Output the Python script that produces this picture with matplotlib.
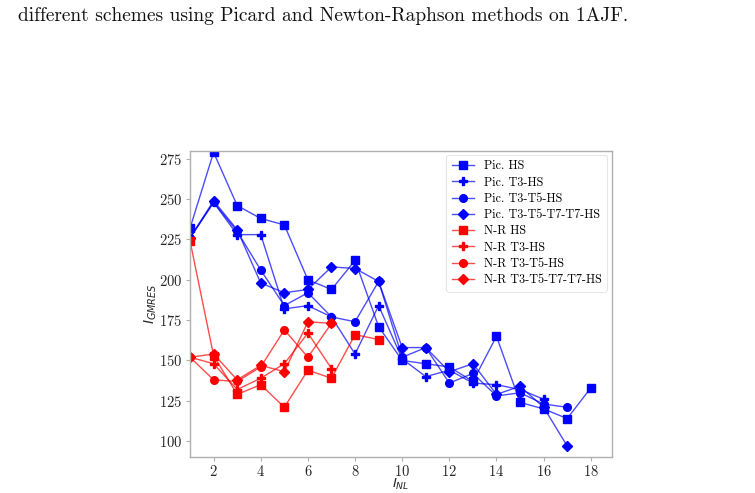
import matplotlib
matplotlib.use("Agg")
import matplotlib.pyplot as plt

# ---------------- data ----------------
pic_hs_x = [1, 2, 3, 4, 5, 6, 7, 8, 9, 10, 11, 12, 13, 14, 15, 16, 17, 18]
pic_hs_y = [232, 279, 246, 238, 234, 200, 194, 212, 171, 150, 148, 146, 137, 165, 124, 120, 114, 133]

pic_t3_x = [1, 2, 3, 4, 5, 6, 7, 8, 9, 10, 11, 12, 13, 14, 15, 16]
pic_t3_y = [226, 248, 228, 228, 182, 184, 177, 154, 184, 151, 140, 144, 136, 135, 132, 126]

pic_t3t5_x = [1, 2, 3, 4, 5, 6, 7, 8, 9, 10, 11, 12, 13, 14, 15, 16, 17]
pic_t3t5_y = [226, 248, 230, 206, 184, 192, 177, 174, 199, 152, 158, 136, 142, 128, 130, 123, 121]

pic_t3t7_x = [1, 2, 3, 4, 5, 6, 7, 8, 9, 10, 11, 12, 13, 14, 15, 16, 17]
pic_t3t7_y = [226, 249, 231, 198, 192, 194, 208, 207, 199, 158, 158, 143, 148, 129, 134, 121, 97]

nr_hs_x = [1, 2, 3, 4, 5, 6, 7, 8, 9]
nr_hs_y = [224, 153, 129, 135, 121, 144, 139, 166, 163]

nr_t3_x = [1, 2, 3, 4, 5, 6, 7]
nr_t3_y = [152, 148, 132, 139, 148, 167, 145]

nr_t3t5_x = [1, 2, 3, 4, 5, 6, 7]
nr_t3t5_y = [152, 138, 137, 146, 169, 152, 173]

nr_t3t7_x = [1, 2, 3, 4, 5, 6, 7]
nr_t3t7_y = [152, 154, 138, 147, 143, 174, 173]

labels = ["Pic. HS", "Pic. T3-HS", "Pic. T3-T5-HS", "Pic. T3-T5-T7-T7-HS",
          "N-R HS", "N-R T3-HS", "N-R T3-T5-HS", "N-R T3-T5-T7-T7-HS"]
x_ticks = [2, 4, 6, 8, 10, 12, 14, 16, 18]
y_ticks = [100, 125, 150, 175, 200, 225, 250, 275]

# ---------------- style ----------------
plt.rcParams['font.family'] = ['cmr10', 'DejaVu Serif']
plt.rcParams['mathtext.fontset'] = 'dejavusans'
plt.rcParams['axes.unicode_minus'] = False
plt.rcParams['axes.formatter.use_mathtext'] = True

fig = plt.figure(figsize=(7.55, 4.93), dpi=100)
ax = fig.add_axes([0.2517, 0.0724, 0.5589, 0.6219])

series = [
    (pic_hs_x, pic_hs_y, 'blue', 's', 5.5),
    (pic_t3_x, pic_t3_y, 'blue', 'P', 6),
    (pic_t3t5_x, pic_t3t5_y, 'blue', 'o', 5.5),
    (pic_t3t7_x, pic_t3t7_y, 'blue', 'D', 5.5),
    (nr_hs_x, nr_hs_y, 'red', 's', 5.5),
    (nr_t3_x, nr_t3_y, 'red', 'P', 6),
    (nr_t3t5_x, nr_t3t5_y, 'red', 'o', 5.5),
    (nr_t3t7_x, nr_t3t7_y, 'red', 'D', 5.5),
]
for (xs, ys, c, m, ms), lab in zip(series, labels):
    lc = (0, 0, 1, 0.7) if c == 'blue' else (1, 0, 0, 0.7)
    ax.plot(xs, ys, color=lc, lw=1.0, marker=m, markersize=ms,
            markerfacecolor=c, markeredgecolor=c, label=lab)

ax.set_xlim(1, 18.9)
ax.set_ylim(90, 280)
ax.set_xticks(x_ticks)
ax.set_yticks(y_ticks)
for s in ax.spines.values():
    s.set_color('#b0b0b0')
    s.set_linewidth(1.0)
ax.tick_params(axis='both', colors='#b0b0b0', labelcolor='#262626',
               labelsize=10.5, length=3, width=0.8, pad=2.5)
ax.tick_params(axis='x', pad=1.5)
ax.set_xlabel(r'$I_{NL}$', fontsize=9.5, color='#262626', labelpad=-1.0)
ax.set_ylabel(r'$I_{GMRES}$', fontsize=10, color='#262626', labelpad=0)

leg = ax.legend(loc='upper right', fontsize=8.8, frameon=True,
                handlelength=1.8, labelspacing=0.34, borderpad=0.45,
                handletextpad=0.8, borderaxespad=0,
                bbox_to_anchor=(0.988, 0.987))
leg.get_frame().set_edgecolor('#e0e0e0')
leg.get_frame().set_linewidth(0.8)

fig.text(0.024, 0.985, "different schemes using Picard and Newton-Raphson methods on 1AJF.",
         fontsize=14, ha='left', va='top', color='#111111')

fig.savefig('out.png', dpi=100)
